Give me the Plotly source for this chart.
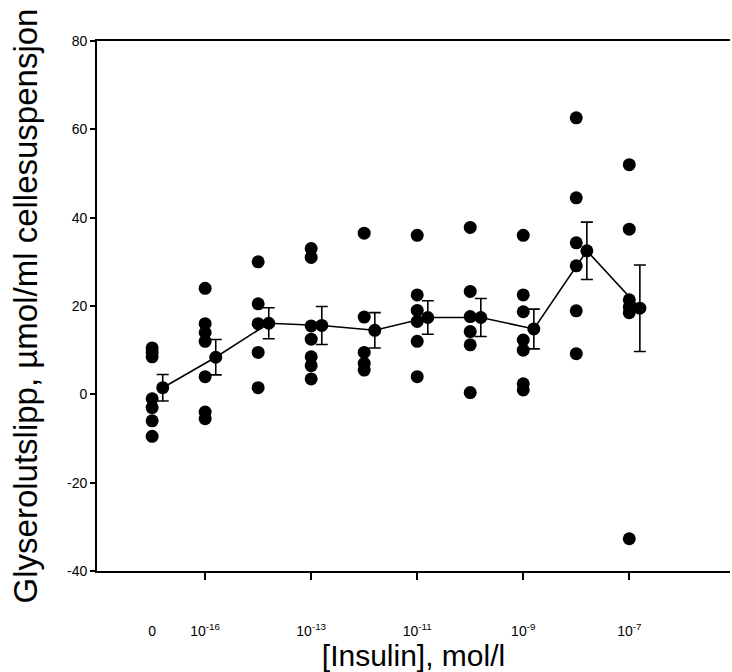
import plotly.graph_objects as go

# Group positions (categorical insulin concentrations, evenly spaced)
groups = [0, 1, 2, 3, 4, 5, 6, 7, 8, 9]
tick_positions = [0, 1, 3, 5, 7, 9]
tick_labels = ["0", "10<sup>-16</sup>", "10<sup>-13</sup>", "10<sup>-11</sup>",
               "10<sup>-9</sup>", "10<sup>-7</sup>"]
tick_mark_positions = [1, 3, 5, 7, 9]
y_tick_values = [-40, -20, 0, 20, 40, 60, 80]
y_tick_labels = ["-40", "-20", "0", "20", "40", "60", "80"]

# Individual observations per group
obs = [
    [10.5, 9.5, 8.5, -1.0, -3.0, -6.0, -9.5],
    [24.0, 16.0, 14.0, 12.0, 4.0, -4.0, -5.5],
    [30.0, 20.5, 16.0, 9.5, 1.5],
    [33.0, 31.0, 15.5, 12.5, 8.5, 6.5, 3.5],
    [36.5, 17.5, 9.5, 7.0, 5.5],
    [36.0, 22.5, 19.0, 16.5, 12.0, 4.0],
    [37.8, 23.3, 17.6, 14.2, 11.2, 0.4],
    [36.0, 22.5, 18.7, 12.3, 10.0, 2.4, 1.0],
    [62.6, 44.5, 34.3, 29.1, 18.9, 9.2],
    [52.0, 37.4, 21.4, 19.8, 18.5, -32.7],
]

# Group means and standard errors
means = [1.5, 8.4, 16.1, 15.6, 14.5, 17.4, 17.4, 14.8, 32.5, 19.5]
sems = [3.0, 4.0, 3.5, 4.3, 4.0, 3.8, 4.3, 4.5, 6.5, 9.8]
mean_offset = 0.2

font_family = "Liberation Sans, Arial, sans-serif"

xs, ys = [], []
for g, vals in zip(groups, obs):
    for v in vals:
        xs.append(g)
        ys.append(v)

fig = go.Figure()
fig.add_trace(go.Scatter(
    x=xs, y=ys, mode="markers", xaxis="x2", yaxis="y",
    marker=dict(color="black", size=13),
    showlegend=False, cliponaxis=False,
))
fig.add_trace(go.Scatter(
    x=[g + mean_offset for g in groups], y=means,
    mode="lines+markers",
    line=dict(color="black", width=1.6),
    marker=dict(color="black", size=13),
    error_y=dict(type="data", array=sems, visible=True,
                 color="black", thickness=1.6, width=6),
    showlegend=False, cliponaxis=False,
))

xrange = [-1.04, 10.9]
fig.update_layout(
    width=732, height=672,
    margin=dict(l=97, r=2, t=41, b=101),
    plot_bgcolor="white", paper_bgcolor="white",
    font=dict(family=font_family, color="black", size=14),
    xaxis=dict(
        range=xrange, tickmode="array", tickvals=tick_mark_positions,
        showticklabels=False, ticks="outside", ticklen=7, tickwidth=1.5,
        tickcolor="black", showline=True, linecolor="black", linewidth=1.8,
        mirror=True, showgrid=False, zeroline=False,
    ),
    xaxis2=dict(
        overlaying="x", anchor="y", side="bottom", range=xrange,
        tickmode="array", tickvals=tick_positions, ticktext=tick_labels,
        ticks="", showline=False, showgrid=False, zeroline=False,
        ticklabelstandoff=50, tickfont=dict(size=14),
        title=dict(text="[Insulin], mol/l", font=dict(size=30), standoff=4),
    ),
    yaxis=dict(
        range=[-40, 80], tickmode="array", tickvals=y_tick_values,
        ticktext=y_tick_labels,
        ticks="outside", ticklen=5, tickwidth=1.5, tickcolor="black",
        showline=True, linecolor="black", linewidth=1.8,
        showgrid=False, zeroline=False, tickfont=dict(size=14),
        title=dict(text="Glyserolutslipp, µmol/ml cellesuspensjon",
                   font=dict(size=33), standoff=20),
    ),
)

fig.write_html("out.html", config={"displayModeBar": False},
               post_script="document.body.style.margin='0';")
